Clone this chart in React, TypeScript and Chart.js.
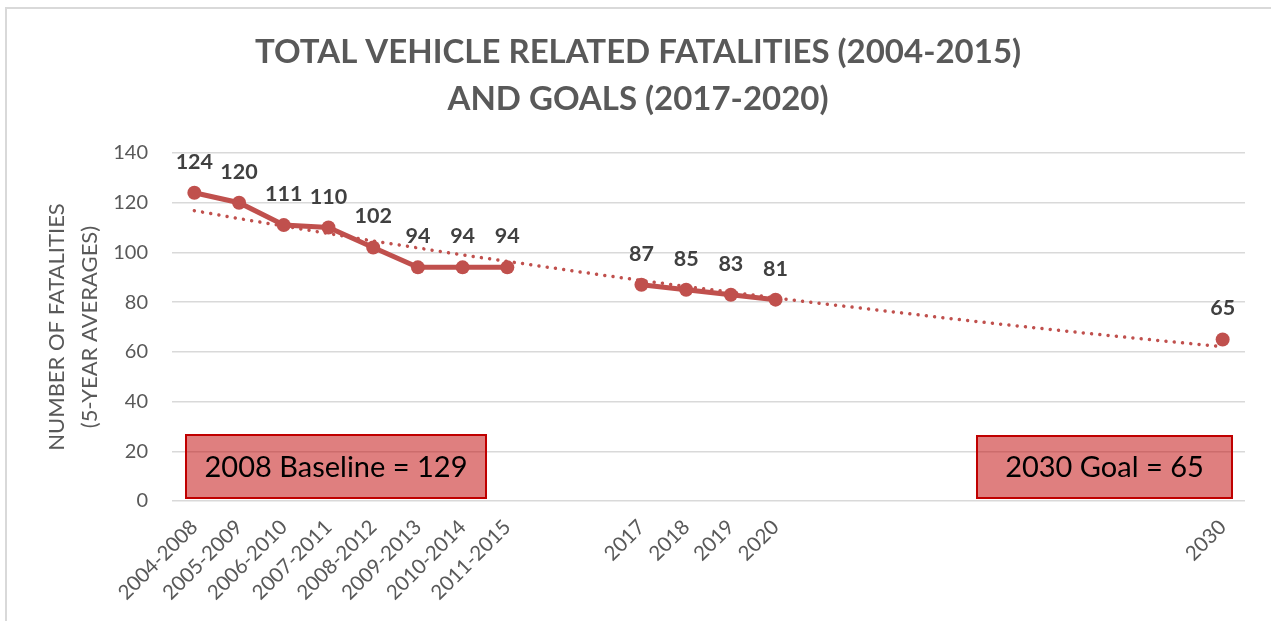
import React, { useEffect, useRef } from "react";
import { Chart, registerables } from "chart.js";

Chart.register(...registerables);

const categories: string[] = [
  "2004-2008", "2005-2009", "2006-2010", "2007-2011", "2008-2012", "2009-2013", "2010-2014", "2011-2015",
  "", "",
  "2017", "2018", "2019", "2020",
  "", "", "", "", "", "", "", "", "",
  "2030",
];

const fatalities: (number | null)[] = [
  124, 120, 111, 110, 102, 94, 94, 94,
  null, null,
  87, 85, 83, 81,
  null, null, null, null, null, null, null, null, null,
  65,
];

// dotted trend line at every category position
const trendValues: number[] = [
  116.8, 113.6, 110.6, 107.6, 104.6, 101.8, 99.0, 96.4,
  93.8, 91.2, 88.7, 86.3, 84.0, 81.7, 79.5, 77.4,
  75.3, 73.2, 71.2, 69.3, 67.4, 65.6, 63.8, 62.1,
];

const yTicks: number[] = [0, 20, 40, 60, 80, 100, 120, 140];

const titleLines: string[] = ["TOTAL VEHICLE RELATED FATALITIES (2004-2015)", "AND GOALS (2017-2020)"];
const yTitleLines: string[] = ["NUMBER OF FATALITIES", "(5-YEAR AVERAGES)"];
const boxTexts: string[] = ["2008 Baseline = 129", "2030 Goal = 65"];

const RED = "#C0504D";

const decorPlugin = {
  id: "decor",
  afterDraw(chart: any) {
    const ctx = chart.ctx as CanvasRenderingContext2D;
    ctx.save();
    // title
    ctx.fillStyle = "#595959";
    ctx.font = "bold 33px Lato";
    ctx.textAlign = "center";
    ctx.textBaseline = "alphabetic";
    ctx.fillText(titleLines[0], 638, 63);
    ctx.fillText(titleLines[1], 638, 110);

    // data labels
    const meta = chart.getDatasetMeta(1);
    ctx.font = "bold 21.5px Lato";
    ctx.fillStyle = "#404040";
    ctx.textBaseline = "alphabetic";
    meta.data.forEach((el: any, i: number) => {
      const v = fatalities[i];
      if (v === null || v === undefined) return;
      ctx.fillText(String(v), el.x, el.y - 24);
    });

    // annotation boxes
    const boxes = [
      { x: 186, y: 435, w: 300, h: 63, text: boxTexts[0] },
      { x: 977, y: 436, w: 255, h: 62, text: boxTexts[1] },
    ];
    boxes.forEach((b) => {
      ctx.fillStyle = "rgba(192,0,0,0.5)";
      ctx.fillRect(b.x, b.y, b.w, b.h);
      ctx.strokeStyle = "#C00000";
      ctx.lineWidth = 2;
      ctx.strokeRect(b.x, b.y, b.w, b.h);
      ctx.fillStyle = "#000000";
      ctx.font = "29px Lato";
      ctx.textAlign = "center";
      ctx.textBaseline = "middle";
      ctx.fillText(b.text, b.x + b.w / 2, b.y + b.h / 2 + 1);
    });
    ctx.restore();
  },
};

export default function App() {
  const ref = useRef<HTMLCanvasElement | null>(null);

  useEffect(() => {
    if (!ref.current) return;
    const chart = new Chart(ref.current, {
      type: "line",
      data: {
        labels: categories,
        datasets: [
          {
            label: "Trend",
            data: trendValues,
            borderColor: RED,
            borderWidth: 3.5,
            borderDash: [0.01, 8.3],
            borderCapStyle: "round",
            pointRadius: 0,
            fill: false,
            tension: 0,
          },
          {
            label: "Fatalities",
            data: fatalities,
            borderColor: RED,
            backgroundColor: RED,
            borderWidth: 5,
            pointRadius: 7,
            pointBackgroundColor: RED,
            pointBorderColor: RED,
            pointBorderWidth: 0,
            spanGaps: false,
            fill: false,
            tension: 0,
          },
        ],
      },
      options: {
        responsive: false,
        animation: false,
        layout: { padding: { top: 153, right: 26, left: 0, bottom: 0 } },
        plugins: {
          legend: { display: false },
          title: { display: false },
          tooltip: { enabled: false },
        },
        scales: {
          x: {
            type: "category",
            offset: true,
            grid: { display: false },
            border: { display: false },
            ticks: {
              autoSkip: false,
              minRotation: 45,
              maxRotation: 45,
              padding: 6,
              color: "#595959",
              font: { family: "Lato", size: 20.5 },
            },
            afterFit: (scale: any) => {
              scale.height = 120;
            },
          },
          y: {
            min: 0,
            max: 140,
            afterBuildTicks: (scale: any) => {
              scale.ticks = yTicks.map((v) => ({ value: v }));
            },
            grid: { color: "#d9d9d9", lineWidth: 1.5, drawTicks: false },
            border: { display: false },
            ticks: {
              padding: 24,
              color: "#595959",
              font: { family: "Lato", size: 20 },
            },
            title: {
              display: true,
              text: yTitleLines,
              color: "#595959",
              font: { family: "Lato", size: 22, lineHeight: 1.5 },
              padding: { top: 40, bottom: 0 },
            },
            afterFit: (scale: any) => {
              scale.width = 172;
            },
          },
        },
      },
      plugins: [decorPlugin],
    });
    return () => chart.destroy();
  }, []);

  return (
    <div style={{ position: "fixed", left: 0, top: 0, width: 1271, height: 621, overflow: "hidden", background: "#fff" }}>
      <div
        style={{
          position: "absolute",
          left: 5,
          top: 7,
          width: 1300,
          height: 700,
          borderLeft: "2px solid #d9d9d9",
          borderTop: "2px solid #d9d9d9",
        }}
      />
      <canvas ref={ref} width={1271} height={621} style={{ position: "absolute", left: 0, top: 0, display: "block" }} />
    </div>
  );
}
